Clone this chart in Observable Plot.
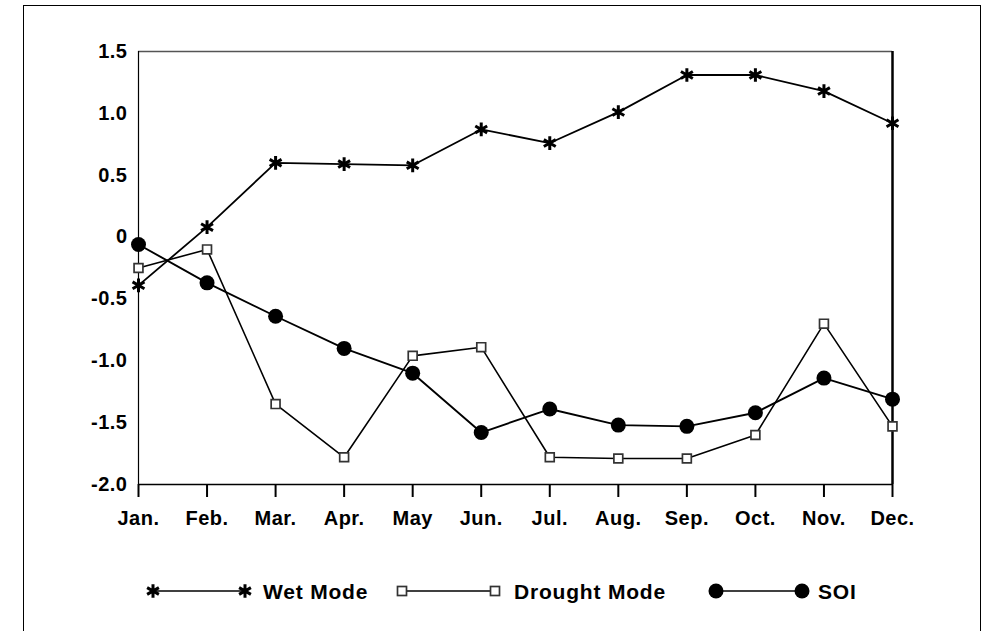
<!DOCTYPE html>
<html>
<head>
<meta charset="utf-8">
<script src="https://cdn.jsdelivr.net/npm/d3@7"></script>
<script src="https://cdn.jsdelivr.net/npm/@observablehq/plot@0.6"></script>
<style>
  html, body { margin: 0; padding: 0; background: #fff; }
  body { width: 996px; height: 631px; position: relative; overflow: hidden; font-family: "Liberation Sans", Arial, sans-serif; }
  #chart { position: absolute; left: 0; top: 0; }
  #legend { position: absolute; left: 0; top: 570px; }
  #frame { position: absolute; left: 23px; top: 5px; width: 958px; height: 700px; border: 1.5px solid #000; box-sizing: border-box; pointer-events: none; }
</style>
</head>
<body>
<div id="chart"></div>
<div id="legend"></div>
<div id="frame"></div>
<script>
const months = ["Jan.","Feb.","Mar.","Apr.","May","Jun.","Jul.","Aug.","Sep.","Oct.","Nov.","Dec."];
const wetMode = [-0.39, 0.08, 0.60, 0.59, 0.58, 0.87, 0.76, 1.01, 1.31, 1.31, 1.18, 0.92];
const droughtMode = [-0.25, -0.10, -1.35, -1.78, -0.96, -0.89, -1.78, -1.79, -1.79, -1.60, -0.70, -1.53];
const soi = [-0.06, -0.37, -0.64, -0.90, -1.10, -1.58, -1.39, -1.52, -1.53, -1.42, -1.14, -1.31];
const yTicks = [1.5, 1.0, 0.5, 0, -0.5, -1.0, -1.5, -2.0];
const seriesNames = ["Wet Mode", "Drought Mode", "SOI"];

const wet = months.map((m, i) => ({month: m, value: wetMode[i]}));
const drought = months.map((m, i) => ({month: m, value: droughtMode[i]}));
const soiData = months.map((m, i) => ({month: m, value: soi[i]}));

const fontCss = "font-family: 'Liberation Sans', Arial, sans-serif; font-weight: bold; fill: #000;";

const chart = Plot.plot({
  width: 996,
  height: 540,
  marginLeft: 138,
  marginRight: 104,
  marginTop: 51,
  marginBottom: 56,
  style: {background: "transparent", fontFamily: "'Liberation Sans', Arial, sans-serif", fontWeight: "bold", fontSize: "20px", color: "#000"},
  x: {type: "point", domain: months, padding: 0, round: false},
  y: {domain: [-2, 1.5]},
  marks: [
    Plot.ruleY([1.5], {stroke: "#555", strokeWidth: 1.5}),
    Plot.ruleY([-2], {stroke: "#000", strokeWidth: 1.5}),
    Plot.ruleX([months[0]], {stroke: "#000", strokeWidth: 1.2}),
    Plot.ruleX([months[months.length - 1]], {stroke: "#000", strokeWidth: 2.5}),
    Plot.axisX({tickSize: 13, tickPadding: 13, label: null, stroke: "#000", strokeWidth: 2, fontSize: 20, fontWeight: "bold"}),
    Plot.axisY({ticks: yTicks, tickSize: 0, tickPadding: 11, label: null, fontSize: 20, fontWeight: "bold",
      tickFormat: d => d === 0 ? "0" : (d < 0 ? "-" : "") + Math.abs(d).toFixed(1)}),
    Plot.line(wet, {x: "month", y: "value", stroke: "#000", strokeWidth: 1.8}),
    Plot.line(drought, {x: "month", y: "value", stroke: "#000", strokeWidth: 1.6}),
    Plot.line(soiData, {x: "month", y: "value", stroke: "#000", strokeWidth: 1.9}),
    Plot.dot(drought, {x: "month", y: "value", symbol: "square", r: 5, fill: "#fff", stroke: "#333", strokeWidth: 1.7}),
    Plot.dot(soiData, {x: "month", y: "value", symbol: "circle", r: 7.5, fill: "#000", stroke: "none"}),
    Plot.dot(wet, {x: "month", y: "value", symbol: "asterisk", r: 6.5, stroke: "#000", strokeWidth: 3})
  ]
});
chart.querySelectorAll("text").forEach(t => { t.style.letterSpacing = "0.5px"; });
document.getElementById("chart").appendChild(chart);

// Legend
const lg = d3.select("#legend").append("svg").attr("width", 996).attr("height", 45);
const ly = 21;
const items = [
  {name: seriesNames[0], x1: 153, x2: 245, tx: 263, sym: "star"},
  {name: seriesNames[1], x1: 402, x2: 495, tx: 514, sym: "square"},
  {name: seriesNames[2], x1: 716, x2: 802, tx: 818, sym: "circle"}
];
items.forEach(it => {
  lg.append("line").attr("x1", it.x1).attr("x2", it.x2).attr("y1", ly).attr("y2", ly).attr("stroke", "#000").attr("stroke-width", 1.7);
  [it.x1, it.x2].forEach(x => {
    if (it.sym === "star") {
      lg.append("path").attr("d", d3.symbol(d3.symbolAsterisk, 130)()).attr("transform", `translate(${x},${ly})`).attr("stroke", "#000").attr("stroke-width", 3).attr("fill", "none");
    } else if (it.sym === "square") {
      lg.append("rect").attr("x", x - 4.5).attr("y", ly - 4.5).attr("width", 9).attr("height", 9).attr("fill", "#fff").attr("stroke", "#333").attr("stroke-width", 1.7);
    } else {
      lg.append("circle").attr("cx", x).attr("cy", ly).attr("r", 7.5).attr("fill", "#000");
    }
  });
  lg.append("text").attr("x", it.tx).attr("y", ly).attr("dy", "0.36em").attr("style", fontCss + "font-size: 21px; letter-spacing: 0.8px;").text(it.name);
});
</script>
</body>
</html>
